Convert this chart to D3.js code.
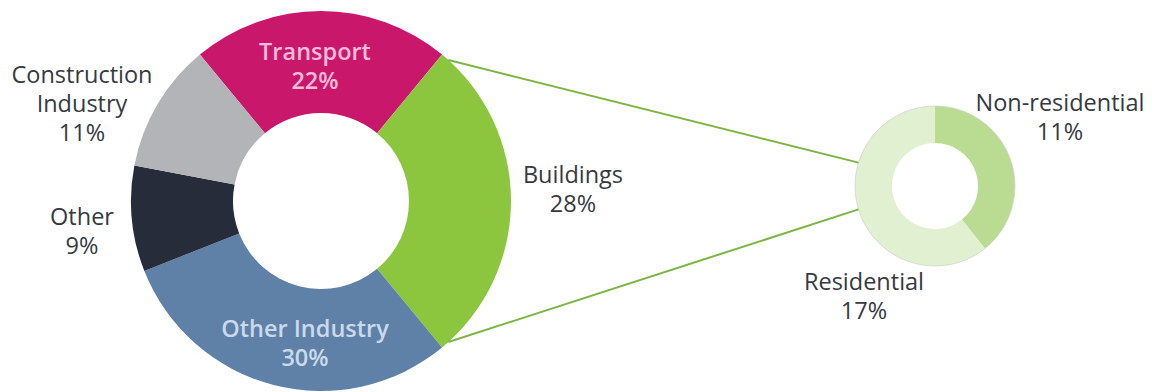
<!DOCTYPE html>
<html>
<head>
<meta charset="utf-8">
<script src="https://cdn.jsdelivr.net/npm/d3@7"></script>
<style>
  html, body { margin: 0; padding: 0; background: #fff; }
  svg { display: block; }
  text { font-family: "Open Sans", "Noto Sans", sans-serif; }
</style>
</head>
<body>
<svg id="chart" width="1154" height="392"></svg>
<script>
// Emissions by sector (percent)
const sectors = ["Transport", "Buildings", "Other Industry", "Other", "Construction Industry"];
const sectorShares = [22, 28, 30, 9, 11];
const sectorColors = ["#C9186C", "#8CC63E", "#5F81A8", "#262C39", "#B2B4B7"];

// Breakdown of the buildings sector
const buildingParts = ["Non-residential", "Residential"];
const buildingShares = [11, 17];
const buildingColors = ["#BADC92", "#E2F0D2"];

const svg = d3.select("#chart");

// ---- main donut ----
const main = { cx: 321, cy: 201, r: 190, r0: 88 };
const transportHalf = sectorShares[0] / d3.sum(sectorShares) * Math.PI;
const pieMain = d3.pie().sort(null).startAngle(-transportHalf).endAngle(2 * Math.PI - transportHalf);
const arcsMain = pieMain(sectorShares);
const arcMain = d3.arc().innerRadius(main.r0).outerRadius(main.r);

const gMain = svg.append("g").attr("transform", `translate(${main.cx},${main.cy})`);
gMain.selectAll("path").data(arcsMain).join("path")
  .attr("d", arcMain)
  .attr("fill", (d, i) => sectorColors[i]);

// ---- buildings breakdown donut ----
const sub = { cx: 935, cy: 186, r: 80, r0: 43 };
const pieSub = d3.pie().sort(null);
const arcsSub = pieSub(buildingShares);
const arcSub = d3.arc().innerRadius(sub.r0).outerRadius(sub.r);
const gSub = svg.append("g").attr("transform", `translate(${sub.cx},${sub.cy})`);
gSub.selectAll("path").data(arcsSub).join("path")
  .attr("d", arcSub)
  .attr("fill", (d, i) => buildingColors[i]);
gSub.append("circle").attr("r", sub.r).attr("fill", "none")
  .attr("stroke", "#cfd6c6").attr("stroke-width", 0.8);

// ---- connector lines from the buildings slice to the breakdown ----
const bArc = arcsMain[1];
const pad = 2.5 * Math.PI / 180;
const polar = (cx, cy, r, a) => [cx + r * Math.sin(a), cy - r * Math.cos(a)];
const subSpread = 17 * Math.PI / 180;
const connectors = [
  [polar(main.cx, main.cy, main.r, bArc.startAngle + pad), polar(sub.cx, sub.cy, sub.r, 1.5 * Math.PI + subSpread)],
  [polar(main.cx, main.cy, main.r, bArc.endAngle - pad), polar(sub.cx, sub.cy, sub.r, 1.5 * Math.PI - subSpread)]
];
svg.selectAll("line.connector").data(connectors).join("line")
  .attr("class", "connector")
  .attr("x1", d => d[0][0]).attr("y1", d => d[0][1])
  .attr("x2", d => d[1][0]).attr("y2", d => d[1][1])
  .attr("stroke", "#7DB544").attr("stroke-width", 2);

// ---- labels ----
const labels = [
  { lines: ["Transport", sectorShares[0] + "%"], x: 315, y: 60, fill: "#F6BCD8", weight: 600 },
  { lines: ["Buildings", sectorShares[1] + "%"], x: 573, y: 183, fill: "#363a40", weight: 400 },
  { lines: ["Other Industry", sectorShares[2] + "%"], x: 305, y: 337, fill: "#CADAEC", weight: 600 },
  { lines: ["Other", sectorShares[3] + "%"], x: 82, y: 225, fill: "#363a40", weight: 400 },
  { lines: ["Construction", "Industry", sectorShares[4] + "%"], x: 82, y: 83, fill: "#363a40", weight: 400 },
  { lines: ["Non-residential", buildingShares[0] + "%"], x: 1060, y: 111, fill: "#363a40", weight: 400 },
  { lines: ["Residential", buildingShares[1] + "%"], x: 864, y: 290, fill: "#363a40", weight: 400 }
];
labels.forEach(l => {
  const t = svg.append("text")
    .attr("x", l.x).attr("y", l.y)
    .attr("text-anchor", "middle")
    .attr("font-size", 23.5)
    .attr("font-weight", l.weight)
    .attr("fill", l.fill);
  l.lines.forEach((s, i) => {
    t.append("tspan").attr("x", l.x).attr("dy", i === 0 ? 0 : 29).text(s);
  });
});
</script>
</body>
</html>
